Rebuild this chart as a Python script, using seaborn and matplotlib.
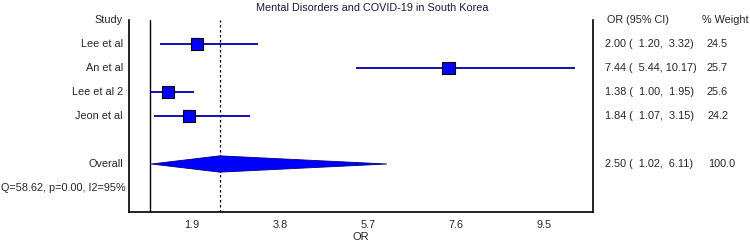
import matplotlib
matplotlib.use("Agg")
import matplotlib.pyplot as plt
import matplotlib.transforms as mtransforms
import numpy as np
import pandas as pd
import seaborn as sns

# ---- data ----
studies = ["Lee et al", "An et al", "Lee et al 2", "Jeon et al"]
or_vals = [2.00, 7.44, 1.38, 1.84]
ci_low = [1.20, 5.44, 1.00, 1.07]
ci_high = [3.32, 10.17, 1.95, 3.15]
weights = [24.5, 25.7, 25.6, 24.2]
overall_or = 2.50
overall_low = 1.02
overall_high = 6.11
overall_weight = 100.0
het_text = "Q=58.62, p=0.00, I2=95%"
title = "Mental Disorders and COVID-19 in South Korea"
xticks = [1.9, 3.8, 5.7, 7.6, 9.5]
xlabel = "OR"

df = pd.DataFrame({"study": studies, "or": or_vals, "lo": ci_low,
                   "hi": ci_high, "w": weights,
                   "row": np.arange(1, len(studies) + 1)})

sns.set_theme(style="white")
plt.rcParams["font.family"] = ["Liberation Sans", "DejaVu Sans"]

W, H = 750, 244
fig = plt.figure(figsize=(W / 100, H / 100), dpi=100)
ax = fig.add_axes([129 / W, 1 - 212 / H, (593 - 129) / W, (212 - 20) / H])

line_col = "#0000a8"
fill_col = "#0000ff"

# CI lines
ax.hlines(df["row"], df["lo"], df["hi"], color=line_col, lw=1.3, zorder=2)
# squares
sns.scatterplot(data=df, x="or", y="row", marker="s", s=df["w"] * 3.0,
                color=fill_col, edgecolor="black", linewidth=0.8,
                ax=ax, zorder=3, legend=False)

# overall diamond
orow = 6
dh = 0.34
ax.fill([overall_low, overall_or, overall_high, overall_or],
        [orow, orow - dh, orow, orow + dh],
        facecolor=fill_col, edgecolor="#000080", lw=0.6, zorder=3)

# reference lines
ax.axvline(1.0, color="black", lw=1.0, zorder=1)
ax.axvline(overall_or, color="black", lw=0.9, ls=(0, (2, 2)), zorder=1)

ax.set_xlim(0.54, 10.56)
ax.set_ylim(8, 0)
ax.set_xticks(xticks)
ax.set_xticklabels([f"{t:.1f}" for t in xticks], fontsize=7.8)
ax.set_yticks([])
ax.tick_params(axis="x", length=2, width=0.6, pad=4, color="#888888")
ax.set_xlabel(xlabel, fontsize=8, labelpad=1)
ax.set_ylabel("")
for s in ["left", "bottom", "right"]:
    ax.spines[s].set_visible(True)
    ax.spines[s].set_color("black")
    ax.spines[s].set_linewidth(1.2)
ax.spines["top"].set_visible(False)

tr = mtransforms.blended_transform_factory(fig.transFigure, ax.transData)
fs = 7.8
# left labels
ax.text(123 / W, 0, "Study", transform=tr, ha="right", va="center", fontsize=fs, clip_on=False)
for r, name in zip(df["row"], studies):
    ax.text(123 / W, r, name, transform=tr, ha="right", va="center", fontsize=fs, clip_on=False)
ax.text(123 / W, orow, "Overall", transform=tr, ha="right", va="center", fontsize=fs, clip_on=False)
ax.text(126 / W, 7, het_text, transform=tr, ha="right", va="center", fontsize=fs, clip_on=False)

# right columns
ax.text(607 / W, 0, "OR (95% CI)", transform=tr, ha="left", va="center", fontsize=fs, clip_on=False)
ax.text(702 / W, 0, "% Weight", transform=tr, ha="left", va="center", fontsize=fs, clip_on=False)


def fmt(o, lo, hi):
    return f"{o:.2f} ( {lo:5.2f}, {hi:5.2f})"


for r, o, lo, hi, w in zip(df["row"], or_vals, ci_low, ci_high, weights):
    ax.text(605 / W, r, fmt(o, lo, hi), transform=tr, ha="left", va="center", fontsize=fs, clip_on=False)
    ax.text(728 / W, r, f"{w:.1f}", transform=tr, ha="right", va="center", fontsize=fs, clip_on=False)
ax.text(605 / W, orow, fmt(overall_or, overall_low, overall_high), transform=tr,
        ha="left", va="center", fontsize=fs, clip_on=False)
ax.text(735 / W, orow, f"{overall_weight:.1f}", transform=tr, ha="right", va="center", fontsize=fs, clip_on=False)

fig.text(372 / W, 1 - 8 / H, title, ha="center", va="center", fontsize=fs, color="#1a1a40")

fig.savefig("out.png", dpi=100, facecolor="white")
